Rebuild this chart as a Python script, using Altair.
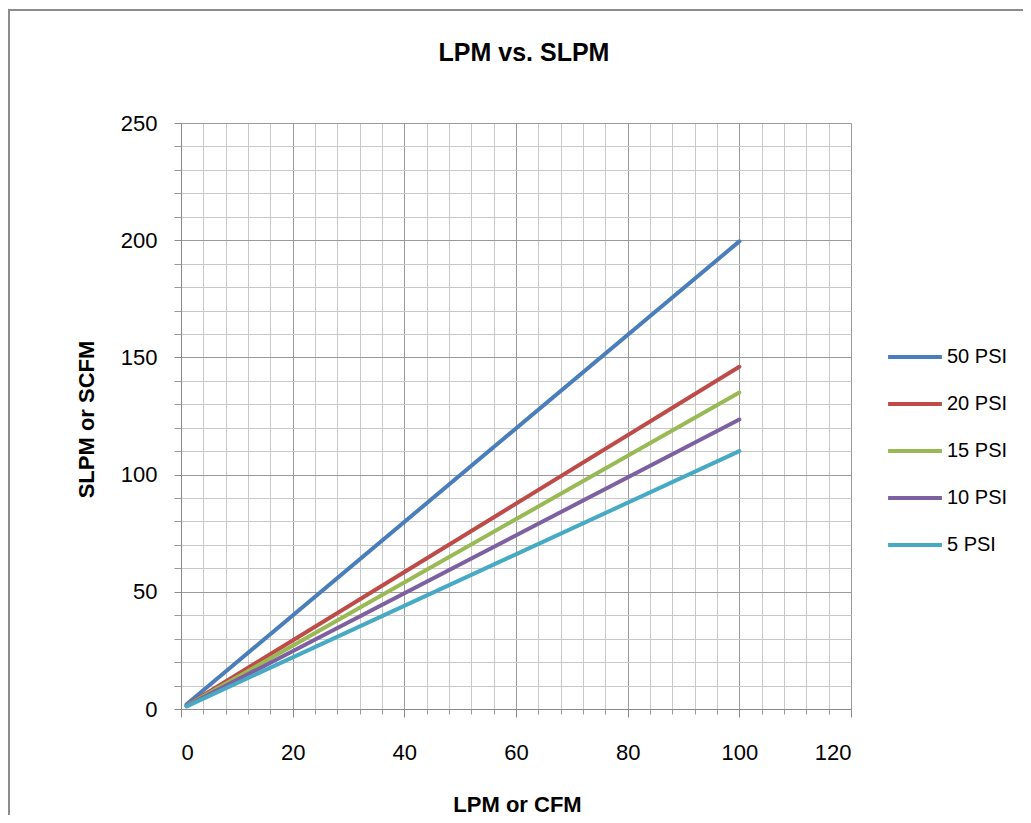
import altair as alt
import pandas as pd

series = ["50 PSI", "20 PSI", "15 PSI", "10 PSI", "5 PSI"]
colors = ["#4a7ebb", "#be4b48", "#98b954", "#7d60a0", "#46aac5"]
x_start = [1, 1, 1, 1, 1]
y_start = [2.0, 1.5, 1.35, 1.24, 1.1]
x_end = [100, 100, 100, 100, 100]
y_end = [199.5, 146.0, 135.0, 123.5, 110.0]

x_major = [0, 20, 40, 60, 80, 100, 120]
x_minor = [v for v in range(0, 121, 4) if v % 20 != 0]
y_major = [0, 50, 100, 150, 200, 250]
y_minor = [v for v in range(0, 251, 10) if v % 50 != 0]

rows = []
for i, s in enumerate(series):
    rows.append({"series": s, "order": i, "x": x_start[i], "y": y_start[i]})
    rows.append({"series": s, "order": i, "x": x_end[i], "y": y_end[i]})
df = pd.DataFrame(rows)

FONT = "Liberation Sans"
xscale = alt.Scale(domain=[0, 120], nice=False, zero=False)
yscale = alt.Scale(domain=[0, 250], nice=False)

minor = alt.Chart(df).mark_line(opacity=0).encode(
    x=alt.X("x:Q", scale=xscale, axis=alt.Axis(
        orient="bottom", values=x_minor, labels=False, title=None, domain=False,
        grid=True, gridColor="#c8c8c8", gridWidth=1, tickSize=5, tickColor="#9a9a9a")),
    y=alt.Y("y:Q", scale=yscale, axis=alt.Axis(
        orient="left", values=y_minor, labels=False, title=None, domain=False,
        grid=True, gridColor="#c8c8c8", gridWidth=1, tickSize=7, tickColor="#9a9a9a")),
    detail="series:N",
)

lines = alt.Chart(df).mark_line(strokeWidth=4, strokeCap="round").encode(
    x=alt.X("x:Q", scale=xscale, axis=alt.Axis(
        orient="bottom", values=x_major, title="LPM or CFM", domain=True,
        domainColor="#8a8a8a", grid=True, gridColor="#9a9a9a", gridWidth=1,
        tickSize=8, tickColor="#8a8a8a", labelFontSize=22, labelFont=FONT,
        labelColor="#000", labelPadding=25,
        titleFont=FONT, titleFontSize=22, titleFontWeight="bold", titleColor="#000",
        titleX=336, titleY=95, titleBaseline="middle", titleAlign="center")),
    y=alt.Y("y:Q", scale=yscale, axis=alt.Axis(
        orient="left", values=y_major, title="SLPM or SCFM", domain=True,
        domainColor="#8a8a8a", grid=True, gridColor="#9a9a9a", gridWidth=1,
        tickSize=7, tickColor="#8a8a8a", labelFontSize=22, labelFont=FONT,
        labelColor="#000", labelPadding=17,
        titleFont=FONT, titleFontSize=22, titleFontWeight="bold", titleColor="#000",
        titleX=-95, titleY=296, titleBaseline="middle", titleAlign="center", titleAngle=270)),
    color=alt.Color("series:N", sort=series,
                    scale=alt.Scale(domain=series, range=colors),
                    legend=alt.Legend(
                        title=None, orient="none", legendX=705, legendY=205,
                        symbolType="stroke", symbolSize=2900, symbolStrokeWidth=4,
                        labelFont=FONT, labelFontSize=20, labelColor="#000",
                        labelOffset=3, rowPadding=8, direction="vertical")),
    order=alt.Order("order:Q", sort="ascending"),
)

border = alt.Chart(alt.Data(values=[{}])).mark_rect(
    fill="transparent", stroke="#8c8c8c", strokeWidth=2
).encode(x=alt.value(-172), x2=alt.value(900), y=alt.value(-113), y2=alt.value(760))

chart = alt.layer(border, minor, lines).resolve_axis(x="independent", y="independent").properties(
    width=670, height=586,
    autosize=alt.AutoSizeParams(type="none"),
    padding={"left": 173, "top": 115, "right": 172, "bottom": 106},
    title=alt.TitleParams("LPM vs. SLPM", font=FONT, fontSize=25, fontWeight="bold",
                          color="#000", anchor="middle", baseline="middle",
                          offset=-69, dx=8),
    background="white",
).configure_view(stroke="transparent")

chart.save("out.html", embed_options={"renderer": "svg", "actions": False})
